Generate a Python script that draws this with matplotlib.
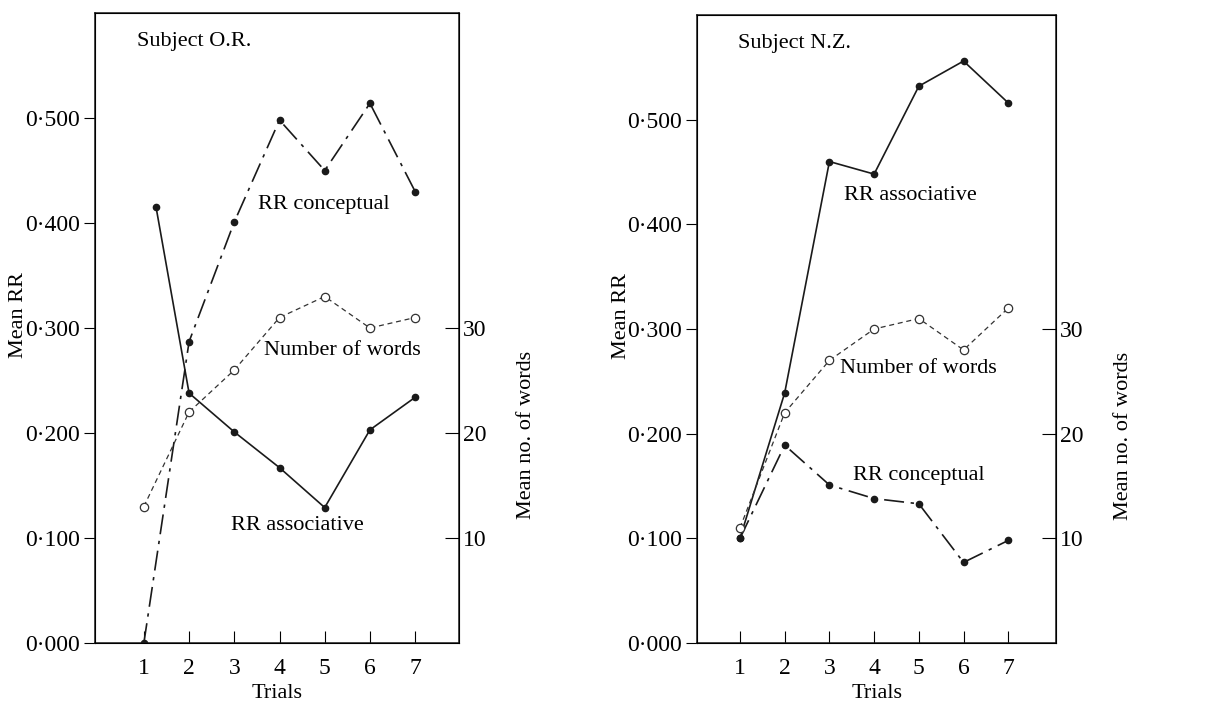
import matplotlib.pyplot as plt

plt.rcParams["font.family"] = ["Liberation Serif", "DejaVu Serif"]

trials = [1, 2, 3, 4, 5, 6, 7]
trial_labels = ["1", "2", "3", "4", "5", "6", "7"]
rr_ticks = [0.0, 0.1, 0.2, 0.3, 0.4, 0.5]
rr_labels = ["0·000", "0·100", "0·200", "0·300", "0·400", "0·500"]
word_ticks = [10, 20, 30]
word_labels = ["10", "20", "30"]

# Subject O.R. (the first associative point sits a little right of trial 1)
or_assoc_x = [1.27, 2, 3, 4, 5, 6, 7]
or_assoc = [0.415, 0.238, 0.201, 0.167, 0.129, 0.203, 0.234]
or_concept = [0.000, 0.287, 0.401, 0.498, 0.450, 0.514, 0.430]
or_words = [13, 22, 26, 31, 33, 30, 31]

# Subject N.Z.
nz_assoc = [0.100, 0.239, 0.460, 0.448, 0.532, 0.556, 0.516]
nz_concept = [0.100, 0.189, 0.151, 0.138, 0.133, 0.077, 0.098]
nz_words = [11, 22, 27, 30, 31, 28, 32]

FS = 16
TICK_FS = 17
INK = "#1a1a1a"


def panel(rect, xlim, title, assoc_x, assoc, concept, words, notes):
    ax = fig.add_axes(rect)
    ax.plot(assoc_x, assoc, color=INK, lw=1.2, marker="o", ms=4.5)
    ax.plot(trials, concept, color=INK, lw=1.2, marker="o", ms=4.5,
            dashes=(12, 4, 2, 4))
    ax.set_xlim(*xlim)
    ax.set_ylim(0, 0.6)
    ax.set_xticks(trials)
    ax.set_xticklabels(trial_labels)
    ax.set_yticks(rr_ticks)
    ax.set_yticklabels(rr_labels)
    ax.tick_params(axis="x", direction="in", length=9, labelsize=TICK_FS, pad=11)
    ax.tick_params(axis="y", direction="out", length=8, labelsize=TICK_FS, pad=3)
    ax.set_xlabel("Trials", fontsize=FS)
    ax.xaxis.set_label_coords(0.5, -0.065)
    ax.set_ylabel("Mean RR", fontsize=FS)
    ax.yaxis.set_label_coords(-0.185, 0.52)
    for s in ax.spines.values():
        s.set_linewidth(1.1)
        s.set_color(INK)

    ax2 = ax.twinx()
    ax2.plot(trials, words, color="#333333", lw=0.9, dashes=(4, 3),
             marker="o", ms=6, mfc="white", mec="#333333", mew=0.9)
    ax2.set_ylim(0, 60)
    ax2.set_yticks(word_ticks)
    ax2.set_yticklabels(word_labels)
    ax2.tick_params(axis="y", direction="in", length=10, labelsize=TICK_FS, pad=3)
    ax2.set_ylabel("Mean no. of words", fontsize=FS)
    ax2.yaxis.set_label_coords(1.16, 0.33)

    ax.text(0.115, 0.955, title, transform=ax.transAxes, fontsize=FS,
            ha="left", va="center")
    for txt, x, y in notes:
        ax.text(x, y, txt, fontsize=FS, ha="center", va="center")
    return ax


fig = plt.figure(figsize=(12.06, 7.08), dpi=100)

panel([0.0788, 0.0918, 0.3018, 0.8898], (-0.08, 7.97), "Subject O.R.",
      or_assoc_x, or_assoc, or_concept, or_words,
      [("RR conceptual", 4.97, 0.418),
       ("Number of words", 5.4, 0.279),
       ("RR associative", 4.4, 0.112)])

panel([0.578, 0.0918, 0.2977, 0.887], (0.04, 8.07), "Subject N.Z.",
      trials, nz_assoc, nz_concept, nz_words,
      [("RR associative", 4.8, 0.428),
       ("Number of words", 5.0, 0.262),
       ("RR conceptual", 5.0, 0.160)])

fig.savefig("out.png", dpi=100, facecolor="white")
